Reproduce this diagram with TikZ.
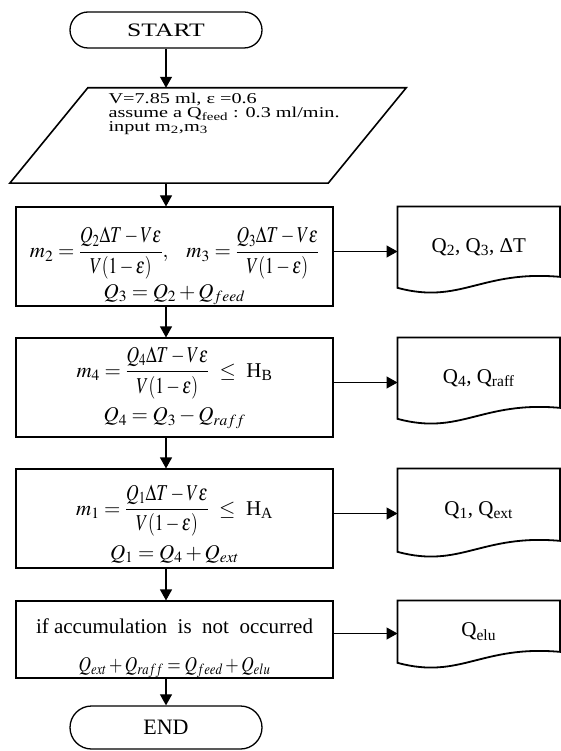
\documentclass[tikz,border=0pt]{standalone}
\usepackage{graphicx}
\usepackage{mathptmx}
\usepackage[no-math]{fontspec}
\setmainfont{Liberation Serif}
\newfontfamily\stretchedserif[FakeStretch=1.35]{Liberation Serif}
\usetikzlibrary{positioning,arrows.meta,shapes.misc,calc}
% narrow, tall fractions as in the scanned original
\newcommand{\fr}[2]{\scalebox{0.83}[1.08]{$\displaystyle\frac{#1}{#2}$}}

\begin{document}
\begin{tikzpicture}[x=1pt, y=-1pt,
  font=\fontsize{21}{24}\selectfont,
  term/.style={draw, rounded rectangle, line width=1.3pt, minimum width=192pt, inner sep=0pt},
  io/.style={minimum width=396pt, minimum height=95pt, inner sep=0pt},
  calcbox/.style={draw, line width=1.1pt, minimum width=317pt, minimum height=99pt, align=center, inner sep=0pt},
  outbox/.style={minimum width=162pt, inner sep=0pt},
  arr/.style={-{Triangle[length=11pt, width=12pt]}, line width=1.1pt}]

\useasboundingbox (0,0) rectangle (561,751);

% --- main column ---
\node[term, minimum height=36pt, font=\fontsize{19}{24}\stretchedserif] (start) at (166,30) {START};
\node[io] (input) at (208,135.5) {};
\draw[line width=1.6pt] ($(input.north west)+(78,0)$) -- (input.north east)
  -- ($(input.south east)+(-78,0)$) -- (input.south west) -- cycle;
\node[anchor=west, align=left, font=\fontsize{15}{14}\stretchedserif] (inputtxt) at (105,114)
  {V=7.85 ml, ε =0.6\\ assume a Q\textsubscript{feed} : 0.3 ml/min.\\ input m\textsubscript{2},m\textsubscript{3}};

\node[calcbox] (eq23) at (174.5,256.5)
  {\rule{0pt}{50pt}$m_2={}$\fr{Q_2\Delta T-V\varepsilon}{V(1-\varepsilon)}$,\enspace\ m_3={}$\fr{Q_3\Delta T-V\varepsilon}{V(1-\varepsilon)}\\[4pt]
   $Q_3=Q_2+Q_{feed}$};
\node[calcbox] (eq4) at (174.5,387.5)
  {$m_4={}$\fr{Q_4\Delta T-V\varepsilon}{V(1-\varepsilon)}\enspace$\leq$\enspace H\textsubscript{B}\\[8pt]
   $Q_4=Q_3-Q_{raff}$};
\node[calcbox] (eq1) at (174.5,518.5)
  {\rule{0pt}{42pt}$m_1={}$\fr{Q_1\Delta T-V\varepsilon}{V(1-\varepsilon)}\enspace$\leq$\enspace H\textsubscript{A}\\[8pt]
   $Q_1=Q_4+Q_{ext}$};
\node[calcbox, minimum height=77pt] (bal) at (174.5,639.5)
  {\rule{0pt}{32pt}if accumulation\enspace is\enspace not\enspace occurred\\[14pt]
   \scalebox{0.82}[1]{$Q_{ext}+Q_{raff}=Q_{feed}+Q_{elu}$}};
\node[term, minimum height=43pt, font=\fontsize{22}{24}\selectfont] (end) at (166,727.5) {END};

% --- output documents on the right ---
\node[outbox, minimum height=81pt, right=64pt of eq23.north east, anchor=north west] (out23)
  {Q\textsubscript{2}, Q\textsubscript{3}, ΔT};
\node[outbox, minimum height=81pt, right=64pt of eq4.north east, anchor=north west] (out4)
  {Q\textsubscript{4}, Q\textsubscript{raff}};
\node[outbox, minimum height=83pt, right=64pt of eq1.north east, anchor=north west] (out1)
  {Q\textsubscript{1}, Q\textsubscript{ext}};
\node[outbox, minimum height=62pt, right=64pt of bal.north east, anchor=north west] (outelu)
  {Q\textsubscript{elu}};
\foreach \o in {out23,out4,out1,outelu}
  \draw[line width=1.8pt] (\o.south west) -- (\o.north west) -- (\o.north east) -- ($(\o.south east)+(0,-11)$)
    .. controls ($(\o.south east)+(-79,-18)$) and ($(\o.south west)+(63,17)$) .. (\o.south west) -- cycle;

% --- flow ---
\draw[arr] (start.south) -- (start.south |- input.north);
\draw[arr] (input.south -| start) -- (eq23.north -| start);
\draw[arr] (eq23.south -| start) -- (eq4.north -| start);
\draw[arr] (eq4.south -| start) -- (eq1.north -| start);
\draw[arr] (eq1.south -| start) -- (bal.north -| start);
\draw[arr] (bal.south -| start) -- (end.north);

\draw[arr] ([yshift=5pt]eq23.east) -- ([yshift=5pt]eq23.east -| out23.west);
\draw[arr] ([yshift=5pt]eq4.east) -- ([yshift=5pt]eq4.east -| out4.west);
\draw[arr] ([yshift=5pt]eq1.east) -- ([yshift=5pt]eq1.east -| out1.west);
\draw[arr] ([yshift=6pt]bal.east) -- ([yshift=6pt]bal.east -| outelu.west);
\end{tikzpicture}
\end{document}
